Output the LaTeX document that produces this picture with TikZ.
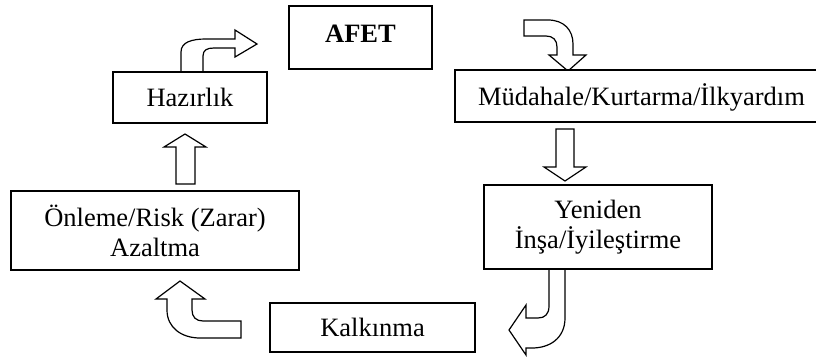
\documentclass[tikz,border=0pt]{standalone}
\usepackage{fontspec}
\setmainfont{Liberation Serif}
\begin{document}
\begin{tikzpicture}[x=1pt,y=-1pt,
  box/.style={draw=black, line width=1.6pt, fill=white, inner sep=0pt,
    font=\fontsize{26.5}{30}\selectfont, align=center},
  barrow/.style={draw=black, line width=1.2pt, fill=white, line join=miter}]
\useasboundingbox (0,0) rectangle (816,356);
% block arrows
\draw[barrow] (181,72) -- (181,52) .. controls (181,42) and (192,39) .. (206,39) -- (235,39) -- (235,30) -- (257,44) -- (235,57) -- (235,48) -- (214,48) .. controls (207,48) and (203,50) .. (203,56) -- (203,72) -- cycle;
\draw[barrow] (524,20) -- (548,20) .. controls (564,20) and (573,30) .. (573,44) -- (573,55) -- (586,55) -- (568,71) -- (549,55) -- (557,55) -- (557,47) .. controls (557,40) and (553,36) .. (546,36) -- (524,36) -- cycle;
\draw[barrow] (556,129) -- (574,129) -- (574,167) -- (586,167) -- (565,181) -- (544,167) -- (556,167) -- cycle;
\draw[barrow] (549,269) -- (565,269) -- (565,318) .. controls (565,338) and (550,348) .. (532,348) -- (526,348) -- (526,355) -- (509,330) -- (526,305) -- (526,318) -- (538,318) .. controls (545,318) and (549,314) .. (549,306) -- cycle;
\draw[barrow] (241,321) -- (203,321) .. controls (196,321) and (192,317) .. (192,310) -- (192,299) -- (205,299) -- (180,281) -- (156,299) -- (167,299) -- (167,310) .. controls (167,328) and (182,338) .. (200,338) -- (241,338) -- cycle;
\draw[barrow] (176,184) -- (176,147) -- (164,147) -- (185,134) -- (206,147) -- (195,147) -- (195,184) -- cycle;
% boxes
\node[box, minimum width=143pt, minimum height=63pt, text height=17.5pt, text depth=7pt,
  font=\fontsize{26.5}{30}\selectfont\bfseries] (afet) at (360.5,37.5) {AFET};
\node[box, minimum width=154pt, minimum height=51pt, text height=18pt, text depth=1pt] (hazir) at (190,97.5) {Hazırlık};
\node[box, minimum width=373pt, minimum height=52pt, text height=18pt, text depth=0pt] (mud) at (641.5,96) {Müdahale/Kurtarma/İlkyardım};
\node[box, minimum width=228pt, minimum height=84pt] (yen) at (598,227) {Yeniden\\İnşa/İyileştirme};
\node[box, minimum width=205pt, minimum height=49pt, text height=18pt, text depth=0pt] (kalk) at (372.5,327.5) {Kalkınma};
\node[box, minimum width=288pt, minimum height=79pt] (onl) at (155,230.5) {Önleme/Risk (Zarar)\\Azaltma};
\end{tikzpicture}
\end{document}
